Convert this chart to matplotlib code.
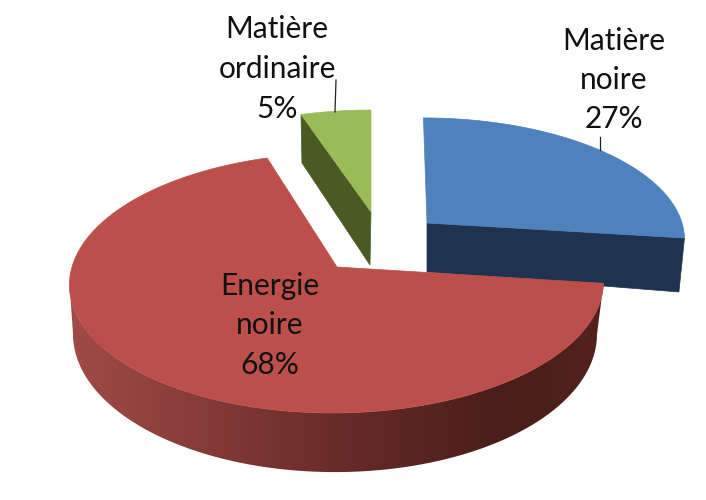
#!/usr/bin/env python3
"""
Exploded 3D style pie of the universe content, drawn by hand with polygons.
"""

import numpy as np
import matplotlib
matplotlib.use("Agg")
import matplotlib.pyplot as plt
from matplotlib.colors import LinearSegmentedColormap
from matplotlib.patches import Polygon

labels = ["Matière\nnoire\n27%", "Energie\nnoire\n68%", "Matière\nordinaire\n5%"]
values = [27, 68, 5]

plt.rcParams["font.family"] = ["Lato", "DejaVu Sans"]

# perspective factor of the fake 3D view
K = 0.123
# angle where the left side of the disc turns away from the viewer
LEFT_SILHOUETTE = 263

# one slice: apex x, apex y, half width, half height, lean (top face, then bottom face)
top_geom = [(427, 223, 255, 118, -4), (337, 267, 265, 128, 4), (371, 212, 253, 114.5, 0)]
bottom_geom = [(427, 272, 250, 157, 0), (335, 317, 260, 136, 0), (370, 265, 246, 120, 0)]

top_colors = ["#4f81bd", "#bc4f4c", "#9bbb59"]
side_colors = ["#1f3350", "#8a3d3a", "#4a5a22"]
label_pos = [(614, 80), (270, 325), (277, 69)]

red_side = LinearSegmentedColormap.from_list(
    "red_side",
    [(0.0, "#a04b48"), (0.2, "#8b3e3b"), (0.5, "#682c29"), (0.8, "#4a1e1a"), (1.0, "#52221e")],
)


def project(theta, geom):
    # theta in degrees, clockwise from 12 o'clock
    x0, y0, a, b, lean = geom
    t = np.radians(theta)
    w = 1 + K * np.cos(t)
    return x0 + (a * np.sin(t) + lean * np.cos(t)) / w, y0 - b * np.cos(t) / w


def arc(start, end, geom):
    xs, ys = project(np.linspace(start, end, 300), geom)
    return np.column_stack([xs, ys])


fig = plt.figure(figsize=(7.06, 5.0), dpi=100)
ax = fig.add_axes([0, 0, 1, 1])

edges = np.cumsum([0] + values) / sum(values) * 360

# Blue and green only show the flat cut face under the top
for i in (0, 2):
    start, end = edges[i], edges[i + 1]
    theta = end if i == 0 else start
    a0 = top_geom[i][:2]
    b0 = bottom_geom[i][:2]
    face = [a0, project(theta, top_geom[i]), project(theta, bottom_geom[i]), b0]
    ax.add_patch(Polygon(face, closed=True, fc=side_colors[i], ec=side_colors[i], lw=0.5))
    top = np.vstack([[a0], arc(start, end, top_geom[i])])
    ax.add_patch(Polygon(top, closed=True, fc=top_colors[i], ec=top_colors[i], lw=0.5))

# Red rim, horizontal gradient clipped to the front part of the rim
upper = arc(edges[1], edges[2], top_geom[1])
front_upper = arc(edges[1], LEFT_SILHOUETTE, top_geom[1])
front_lower = arc(edges[1], LEFT_SILHOUETTE, bottom_geom[1])
rim = Polygon(np.vstack([front_upper, front_lower[::-1]]), closed=True, fc="none", ec="none")
ax.add_patch(rim)
gradient = np.linspace(0, 1, 256).reshape(1, -1)
img = ax.imshow(gradient, cmap=red_side, aspect="auto", zorder=1.5,
                extent=(upper[:, 0].min() - 1, upper[:, 0].max() + 1, 500, 0))
img.set_clip_path(rim)

red_top = np.vstack([[top_geom[1][:2]], upper])
ax.add_patch(Polygon(red_top, closed=True, fc=top_colors[1], ec=top_colors[1], lw=0.5, zorder=2))

# leader lines
ax.plot([336, 335], [80, 112], color="#222222", lw=0.9)
ax.plot([600, 600], [137, 150], color="#222222", lw=0.9)

for text, (x, y) in zip(labels, label_pos):
    ax.text(x, y, text, ha="center", va="center", fontsize=21.5,
            color="#111111", linespacing=1.5, zorder=3)

ax.set_xlim(0, 706)
ax.set_ylim(500, 0)
ax.axis("off")

fig.savefig("out.png", dpi=100)
